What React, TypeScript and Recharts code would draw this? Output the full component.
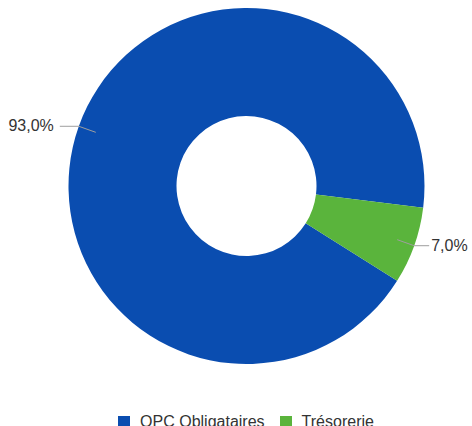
import { PieChart, Pie, Cell, Legend } from 'recharts';

const categories = ['OPC Obligataires', 'Trésorerie'];
const values = [93.0, 7.0];
const COLORS = ['#0a4db0', '#5ab43c'];

const data = categories.map((name, i) => ({ name, value: values[i] }));

const RAD = Math.PI / 180;

const renderLabel = (props: any) => {
    const { cx, cy, midAngle, outerRadius, percent } = props;
    const cos = Math.cos(-midAngle * RAD);
    const sin = Math.sin(-midAngle * RAD);
    const right = cos >= 0;
    const sx = cx + (outerRadius - 18) * cos;
    const sy = cy + (outerRadius - 18) * sin;
    const mx = cx + outerRadius * cos;
    const my = cy + outerRadius * sin;
    const ex = mx + (right ? 15 : -19);
    const label = (percent * 100).toFixed(1).replace('.', ',') + '%';
    return (
        <g>
            <polyline points={`${sx},${sy} ${mx},${my} ${ex},${my}`} stroke="#9e9e9e" strokeWidth={1} fill="none" />
            <text x={ex + (right ? 2 : -6)} y={my} dy={5} textAnchor={right ? 'start' : 'end'} fill="#333" fontSize={16}>
                {label}
            </text>
        </g>
    );
};

const renderLegend = (props: any) => {
    const { payload } = props;
    return (
        <div style={{ display: 'flex', justifyContent: 'center', alignItems: 'center', paddingLeft: 20 }}>
            {payload.map((entry: any, index: number) => (
                <div key={`item-${index}`} style={{ display: 'flex', alignItems: 'center', marginRight: index === 0 ? 15 : 0 }}>
                    <span style={{ display: 'inline-block', width: 12, height: 12, background: entry.color, marginRight: 10 }} />
                    <span style={{ color: '#333', fontSize: 16, lineHeight: '16px' }}>{entry.value}</span>
                </div>
            ))}
        </div>
    );
};

const App = () => {
    return (
        <div style={{ position: 'absolute', left: 0, top: 0, width: 472, height: 426, background: '#fff', fontFamily: 'Arial, "Liberation Sans", sans-serif' }}>
            <PieChart
                width={472}
                height={426}
                margin={{ top: 0, right: 0, bottom: 0, left: 0 }}
                style={{ fontFamily: 'Arial, "Liberation Sans", sans-serif' }}
            >
                <Pie
                    data={data}
                    dataKey="value"
                    nameKey="name"
                    cx={246.5}
                    cy={186}
                    innerRadius={70}
                    outerRadius={178}
                    startAngle={327.8}
                    endAngle={-32.2}
                    stroke="none"
                    labelLine={false}
                    label={renderLabel}
                    isAnimationActive={false}
                >
                    {data.map((entry, index) => (
                        <Cell key={`cell-${index}`} fill={COLORS[index % COLORS.length]} />
                    ))}
                </Pie>
                <Legend
                    content={renderLegend}
                    wrapperStyle={{ position: 'absolute', top: 414, left: 0, width: 472 }}
                />
            </PieChart>
        </div>
    );
};

export default App;
